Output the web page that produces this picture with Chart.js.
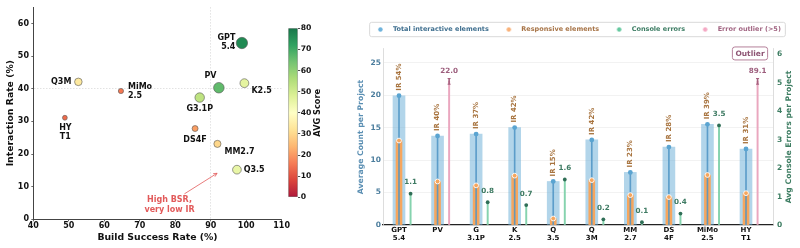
<!DOCTYPE html>
<html lang="en">
<head>
<meta charset="utf-8">
<title>Build success vs interaction rate</title>
<script src="https://cdn.jsdelivr.net/npm/chart.js@4.4.1/dist/chart.umd.min.js"></script>
<style>
  html, body { margin: 0; padding: 0; background: #ffffff; }
  body { position: relative; width: 800px; height: 248px; overflow: hidden; }
  canvas { position: absolute; top: 0; }
  #scatterChart { left: 0; }
  #colorbar { left: 280px; }
  #barChart { left: 352px; }
</style>
</head>
<body>
<canvas id="scatterChart" width="290" height="248"></canvas>
<canvas id="colorbar" width="52" height="248"></canvas>
<canvas id="barChart" width="448" height="248"></canvas>
<script>
// ---- data (left panel) ----
const scatterNames = ['GPT\n5.4', 'PV', 'G3.1P', 'K2.5', 'Q3.5', 'Q3M', 'MM2.7', 'DS4F', 'MiMo\n2.5', 'HY\nT1'];
const buildSuccessRate = [98.8, 92.3, 86.9, 99.5, 97.4, 52.7, 91.9, 85.6, 64.7, 48.9];
const interactionRate = [54.0, 40.3, 37.3, 41.7, 15.2, 42.1, 23.1, 27.8, 39.3, 31.1];
const avgScore = [76, 66, 53, 46, 45, 34, 30, 21, 16, 14];
const bsrTicks = [40, 50, 60, 70, 80, 90, 100, 110];
const irTicks = [0, 10, 20, 30, 40, 50, 60];
const scoreTicks = [0, 10, 20, 30, 40, 50, 60, 70, 80];
const scoreRange = [0, 80];

// ---- data (right panel) ----
const barNames = [['GPT', '5.4'], ['PV'], ['G', '3.1P'], ['K', '2.5'], ['Q', '3.5'], ['Q', '3M'], ['MM', '2.7'], ['DS', '4F'], ['MiMo', '2.5'], ['HY', 'T1']];
const totalInteractive = [19.9, 13.7, 14.0, 15.0, 6.7, 13.1, 8.1, 12.0, 15.5, 11.7];
const responsiveElems = [13.0, 6.7, 6.1, 7.6, 1.0, 6.9, 4.6, 4.3, 7.7, 4.9];
const consoleErrors = [1.1, 22.0, 0.8, 0.7, 1.6, 0.2, 0.1, 0.4, 3.5, 89.1];
const countTicks = [0, 5, 10, 15, 20, 25];
const errorTicks = [0, 1, 2, 3, 4, 5, 6];

// ---- look ----
const FONT = '"DejaVu Sans", sans-serif';
Chart.defaults.font.family = FONT;
Chart.defaults.font.weight = 'bold';
Chart.defaults.color = '#111';
Chart.defaults.animation = false;
Chart.defaults.events = [];
Chart.defaults.plugins.legend.display = false;
Chart.defaults.plugins.tooltip.enabled = false;

const RDYLGN = [[165,0,38],[215,48,39],[244,109,67],[253,174,97],[254,224,139],[255,255,191],[217,239,139],[166,217,106],[102,189,99],[26,152,80],[0,104,55]];
function rdylgn(t, alpha) {
    t = Math.min(1, Math.max(0, t)) * 10;
    const i = Math.min(9, Math.floor(t)), f = t - i;
    const a = RDYLGN[i], b = RDYLGN[i + 1];
    const c = a.map((v, k) => Math.round(v + (b[k] - v) * f));
    return `rgba(${c[0]},${c[1]},${c[2]},${alpha})`;
}

function drawLines(ctx, lines, x, y, align, vpos, lh) {
    ctx.textAlign = align;
    ctx.textBaseline = 'middle';
    const n = lines.length;
    const y0 = vpos === 'top' ? y + lh / 2 : vpos === 'bottom' ? y - n * lh + lh / 2 : y - (n - 1) * lh / 2;
    lines.forEach((t, k) => ctx.fillText(t, x, y0 + k * lh));
}

const ticksFrom = list => scale => { scale.ticks = list.map(v => ({ value: v })); };

// rotated axis title drawn by hand (reads bottom to top on either side)
const rotatedTitle = {
    id: 'rotatedTitle',
    afterDraw(chart, args, opts) {
        const { ctx, chartArea } = chart;
        ctx.save();
        ctx.translate(opts.x, (chartArea.top + chartArea.bottom) / 2);
        ctx.rotate(-Math.PI / 2);
        ctx.font = `bold ${opts.size}px ${FONT}`;
        ctx.fillStyle = opts.color;
        ctx.textAlign = 'center';
        ctx.textBaseline = 'middle';
        ctx.fillText(opts.text, 0, 0);
        ctx.restore();
    }
};

// ---------------- left: scatter ----------------
// label offsets in px from each point: [dx, dy, align, vertical anchor]
const scatterLabelPlace = [
    [-6.5, -1, 'right', 'middle'],
    [-2.3, -7.5, 'right', 'bottom'],
    [0, 6.5, 'center', 'top'],
    [7, 3.5, 'left', 'top'],
    [6.7, 0, 'left', 'middle'],
    [-7, 0, 'right', 'middle'],
    [7, 3.2, 'left', 'top'],
    [0, 7.3, 'center', 'top'],
    [7, 0, 'left', 'middle'],
    [0.5, 6, 'center', 'top']
];
const NOTE_COLOR = '#e25a5a';
const noteAt = { x: 78.4, y: 4.3 };
const arrowFrom = { x: 82.6, y: 7.8 };
const arrowTo = { x: 91.8, y: 14.1 };

const scatterNotes = {
    id: 'scatterNotes',
    afterDatasetsDraw(chart) {
        const { ctx, scales: { x, y } } = chart;
        ctx.save();
        ctx.font = `bold 8px ${FONT}`;
        ctx.fillStyle = '#111';
        scatterNames.forEach((name, i) => {
            const [dx, dy, align, vpos] = scatterLabelPlace[i];
            drawLines(ctx, name.split('\n'),
                x.getPixelForValue(buildSuccessRate[i]) + dx,
                y.getPixelForValue(interactionRate[i]) + dy, align, vpos, 9);
        });

        // arrow to the high BSR / low IR point
        const x1 = x.getPixelForValue(arrowFrom.x), y1 = y.getPixelForValue(arrowFrom.y);
        const x2 = x.getPixelForValue(arrowTo.x), y2 = y.getPixelForValue(arrowTo.y);
        const a = Math.atan2(y2 - y1, x2 - x1);
        ctx.strokeStyle = NOTE_COLOR;
        ctx.lineWidth = 0.8;
        ctx.beginPath();
        ctx.moveTo(x1, y1);
        ctx.lineTo(x2, y2);
        ctx.moveTo(x2 - 4 * Math.cos(a - 0.45), y2 - 4 * Math.sin(a - 0.45));
        ctx.lineTo(x2, y2);
        ctx.lineTo(x2 - 4 * Math.cos(a + 0.45), y2 - 4 * Math.sin(a + 0.45));
        ctx.stroke();

        ctx.fillStyle = NOTE_COLOR;
        drawLines(ctx, ['High BSR,', 'very low IR'], x.getPixelForValue(noteAt.x), y.getPixelForValue(noteAt.y), 'center', 'middle', 9.7);
        ctx.restore();
    }
};

new Chart(document.getElementById('scatterChart'), {
    type: 'scatter',
    data: {
        datasets: [{
            data: buildSuccessRate.map((v, i) => ({ x: v, y: interactionRate[i] })),
            pointRadius: avgScore.map(s => 0.65 * Math.sqrt(s)),
            pointBackgroundColor: avgScore.map(s => rdylgn(s / 80, 0.92)),
            pointBorderColor: '#555',
            pointBorderWidth: 0.6
        }]
    },
    options: {
        responsive: false,
        layout: { padding: { top: 6.7, right: 7, left: 0, bottom: 0 } },
        scales: {
            x: {
                type: 'linear', min: 40, max: 110,
                afterBuildTicks: ticksFrom(bsrTicks),
                afterFit: s => { s.height = 28.7; },
                grid: {
                    color: c => (c.tick && c.tick.value === 90 ? '#dadada' : 'rgba(0,0,0,0)'),
                    lineWidth: 0.8, tickLength: 2, tickColor: '#444'
                },
                border: { color: '#444', width: 1, dash: [1.5, 1.5] },
                ticks: { padding: 0, font: { size: 8 }, color: '#111' },
                title: { display: true, text: 'Build Success Rate (%)', font: { size: 9.3 }, color: '#111', padding: { top: 0, bottom: 5.1 } }
            },
            y: {
                min: 0, max: 65,
                afterBuildTicks: ticksFrom(irTicks),
                afterFit: s => { s.width = 33.3; },
                grid: {
                    color: c => (c.tick && c.tick.value === 40 ? '#dadada' : 'rgba(0,0,0,0)'),
                    lineWidth: 0.8, tickLength: 2, tickColor: '#444'
                },
                border: { color: '#444', width: 1, dash: [1.5, 1.5] },
                ticks: { padding: 2.3, font: { size: 8 }, color: '#111' },
                title: { display: true, text: 'Interaction Rate (%)', font: { size: 9.3 }, color: '#111', padding: { top: 5.4, bottom: 0 } }
            }
        }
    },
    plugins: [scatterNotes]
});

// ---------------- colour bar ----------------
new Chart(document.getElementById('colorbar'), {
    type: 'bar',
    data: {
        labels: ['AVG Score'],
        datasets: [{
            data: [scoreRange],
            backgroundColor: c => {
                const area = c.chart.chartArea;
                if (!area) return '#ccc';
                const g = c.chart.ctx.createLinearGradient(0, area.bottom, 0, area.top);
                RDYLGN.forEach((_, k) => g.addColorStop(k / 10, rdylgn(k / 10, 0.9)));
                return g;
            },
            borderColor: '#8a8a8a',
            borderWidth: 0.6,
            borderSkipped: false,
            barPercentage: 1,
            categoryPercentage: 1
        }]
    },
    options: {
        responsive: false,
        layout: { padding: { left: 8.3, top: 28.3, bottom: 50.7, right: 0 } },
        scales: {
            x: { display: false },
            y: {
                position: 'right', min: scoreRange[0], max: scoreRange[1],
                afterBuildTicks: ticksFrom(scoreTicks),
                afterFit: s => { s.width = 34.3; },
                grid: { drawOnChartArea: false, tickLength: 2.5, tickColor: '#222', tickWidth: 0.8 },
                border: { display: false },
                ticks: { padding: 0.5, font: { size: 7.7 }, color: '#111' }
            }
        },
        plugins: { rotatedTitle: { text: 'AVG Score', x: 38.3, size: 8.2, color: '#111' } }
    },
    plugins: [rotatedTitle]
});

// ---------------- right: grouped bars ----------------
const OUTLIER_LIMIT = 5;
const OUTLIER_DRAW_AT = 5.05;
const ERR_OFFSET = 0.3;

const C_TOTAL = '#5aa4d1';
const C_RESP = '#f6a65e';
const C_ERR_STEM = '#86d3ae';
const C_ERR_DOT = '#2f6e56';
const C_OUT_STEM = '#eaa7bf';
const C_OUT_MARK = '#a5607e';
const C_IR = '#a8743f';
const C_ERR_TXT = '#3d7a62';
const C_OUT_TXT = '#9c5d7c';

const pts = (vals, dx) => vals.map((v, i) => ({ x: i + dx, y: v }));
const errNormal = pts(consoleErrors, ERR_OFFSET).filter(p => p.y <= OUTLIER_LIMIT);
const errOutlier = pts(consoleErrors, ERR_OFFSET).filter(p => p.y > OUTLIER_LIMIT).map(p => ({ x: p.x, y: OUTLIER_DRAW_AT }));
const outlierCaps = errOutlier.flatMap(p => [{ x: p.x, y: p.y - 0.1 }, { x: p.x, y: p.y + 0.1 }]);

function dotImage(color, r) {
    const c = document.createElement('canvas');
    c.width = c.height = Math.ceil(2 * r + 2);
    const g = c.getContext('2d');
    g.fillStyle = color;
    g.beginPath();
    g.arc(c.width / 2, c.height / 2, r, 0, Math.PI * 2);
    g.fill();
    return c;
}
const legendEntries = [
    { text: 'Total interactive elements', dot: '#6fb3dc', color: '#3f6f8f' },
    { text: 'Responsive elements', dot: '#f9b27a', color: '#a77447' },
    { text: 'Console errors', dot: '#66c9a0', color: '#3d7d64' },
    { text: 'Error outlier (>5)', dot: '#f4a9c4', color: '#a26683' }
];

const barNotes = {
    id: 'barNotes',
    beforeDraw(chart) {
        // frame around the legend row
        const hb = chart.legend && chart.legend.legendHitBoxes;
        if (!hb || !hb.length) return;
        const { ctx } = chart;
        const first = hb[0], last = hb[hb.length - 1];
        const cy = first.top + first.height / 2;
        const left = first.left - 2, right = last.left + last.width + 4;
        ctx.save();
        ctx.beginPath();
        ctx.roundRect(left + 0.5, cy - 7.2, right - left, 14.4, 2);
        ctx.fillStyle = '#fff';
        ctx.fill();
        ctx.strokeStyle = '#d9d9d9';
        ctx.lineWidth = 1;
        ctx.stroke();
        ctx.restore();
    },
    afterDatasetsDraw(chart) {
        const { ctx, chartArea, scales: { x, y, y2 } } = chart;
        ctx.save();

        // IR labels above each total dot
        ctx.font = `bold 7px ${FONT}`;
        ctx.fillStyle = C_IR;
        ctx.textAlign = 'left';
        ctx.textBaseline = 'middle';
        totalInteractive.forEach((v, i) => {
            ctx.save();
            ctx.translate(x.getPixelForValue(i), y.getPixelForValue(v) - 5);
            ctx.rotate(-Math.PI / 2);
            ctx.fillText(`IR ${Math.round(interactionRate[i])}%`, 0, 0);
            ctx.restore();
        });

        // console error values
        ctx.font = `bold 7.2px ${FONT}`;
        ctx.textAlign = 'center';
        ctx.textBaseline = 'alphabetic';
        consoleErrors.forEach((v, i) => {
            const px = x.getPixelForValue(i + ERR_OFFSET);
            if (v > OUTLIER_LIMIT) {
                ctx.fillStyle = C_OUT_TXT;
                ctx.fillText(v.toFixed(1), px, y2.getPixelForValue(OUTLIER_DRAW_AT) - 8.5);
            } else {
                ctx.fillStyle = C_ERR_TXT;
                ctx.fillText(v.toFixed(1), px, y2.getPixelForValue(v) - 9.5);
            }
        });

        // "Outlier" tag
        const cx = chartArea.right - 23, cy = chartArea.top + 4.5;
        ctx.font = `bold 7.5px ${FONT}`;
        const w = ctx.measureText('Outlier').width + 6;
        ctx.beginPath();
        ctx.roundRect(cx - w / 2, cy - 6.5, w, 13, 2.5);
        ctx.fillStyle = '#fff';
        ctx.fill();
        ctx.strokeStyle = '#b5809a';
        ctx.lineWidth = 1;
        ctx.stroke();
        ctx.fillStyle = '#8e5574';
        ctx.textBaseline = 'middle';
        ctx.fillText('Outlier', cx, cy + 0.5);
        ctx.restore();
    }
};

new Chart(document.getElementById('barChart'), {
    type: 'bar',
    data: {
        datasets: [
            { data: pts(totalInteractive, 0), backgroundColor: 'rgba(107,174,214,0.52)', barThickness: 12, grouped: false, order: 9 },
            { data: pts(responsiveElems, 0), backgroundColor: C_RESP, barThickness: 6, grouped: false, order: 8 },
            { data: pts(totalInteractive, 0), backgroundColor: 'rgba(78,148,196,0.85)', barThickness: 1, grouped: false, order: 7 },
            { data: errNormal, yAxisID: 'y2', backgroundColor: C_ERR_STEM, barThickness: 1.3, grouped: false, order: 6 },
            { data: errOutlier, yAxisID: 'y2', backgroundColor: C_OUT_STEM, barThickness: 1.3, grouped: false, order: 6 },
            { type: 'scatter', data: pts(totalInteractive, 0), pointRadius: 2.4, pointBackgroundColor: C_TOTAL, pointBorderWidth: 0, order: 3 },
            { type: 'scatter', data: pts(responsiveElems, 0), pointRadius: 2.4, pointBackgroundColor: C_RESP, pointBorderColor: '#fff', pointBorderWidth: 0.9, order: 2 },
            { type: 'scatter', data: errNormal, yAxisID: 'y2', pointRadius: 1.9, pointBackgroundColor: C_ERR_DOT, pointBorderWidth: 0, order: 2 },
            { type: 'scatter', data: errOutlier, yAxisID: 'y2', pointStyle: 'line', rotation: 90, pointRadius: 2.8, pointBorderColor: C_OUT_MARK, pointBorderWidth: 1.6, order: 1 },
            { type: 'scatter', data: outlierCaps, yAxisID: 'y2', pointStyle: 'line', pointRadius: 1.5, pointBorderColor: C_OUT_MARK, pointBorderWidth: 1, order: 1 }
        ]
    },
    options: {
        responsive: false,
        layout: { padding: { top: 15.5, left: 0, right: 0, bottom: 0 } },
        scales: {
            x: {
                type: 'linear', min: -0.415, max: 9.7, offset: false,
                afterBuildTicks: ticksFrom(barNames.map((_, i) => i)),
                afterFit: s => { s.height = 23; },
                grid: { display: false, drawTicks: false, offset: false },
                border: { color: '#222', width: 1.3 },
                ticks: {
                    autoSkip: false, maxRotation: 0, padding: 1, color: '#111',
                    font: { size: 7, lineHeight: 1.15 },
                    callback: v => barNames[v]
                }
            },
            y: {
                position: 'left', min: 0, max: 27.1,
                afterBuildTicks: ticksFrom(countTicks),
                afterFit: s => { s.width = 31; },
                grid: { color: c => (c.tick && c.tick.value === 0 ? 'rgba(0,0,0,0)' : '#efefef'), lineWidth: 0.8, drawTicks: false },
                border: { color: '#d4d4d4', width: 0.8 },
                ticks: { padding: 2, color: '#4b7d9d', font: { size: 7.5 } },
                title: { display: true, text: 'Average Count per Project', color: '#5b8fb3', font: { size: 7.7 }, padding: { top: 4.1, bottom: 0 } }
            },
            y2: {
                position: 'right', min: 0, max: 6.19,
                afterBuildTicks: ticksFrom(errorTicks),
                afterFit: s => { s.width = 27; },
                grid: { drawOnChartArea: false, drawTicks: false },
                border: { color: '#d4d4d4', width: 0.8 },
                ticks: { padding: 4, color: '#3d7d62', font: { size: 7.5 } }
            }
        },
        plugins: {
            legend: {
                display: true, position: 'top', weight: 2500, onClick: null,
                labels: {
                    usePointStyle: true,
                    pointStyleWidth: 18.5,
                    padding: 10.75,
                    font: { size: 6.5, weight: 'bold' },
                    generateLabels: () => legendEntries.map(e => ({
                        text: e.text,
                        fillStyle: e.dot,
                        strokeStyle: e.dot,
                        lineWidth: 0,
                        pointStyle: dotImage(e.dot, 2.2),
                        fontColor: e.color,
                        hidden: false
                    }))
                }
            },
            // empty title used only as a spacer between legend and plot
            title: { display: true, text: '', font: { size: 1 }, padding: { top: 0, bottom: 5 } },
            rotatedTitle: { text: 'Avg Console Errors per Project', x: 437, size: 7.7, color: '#3d7d62' }
        }
    },
    plugins: [barNotes, rotatedTitle]
});
</script>
</body>
</html>
